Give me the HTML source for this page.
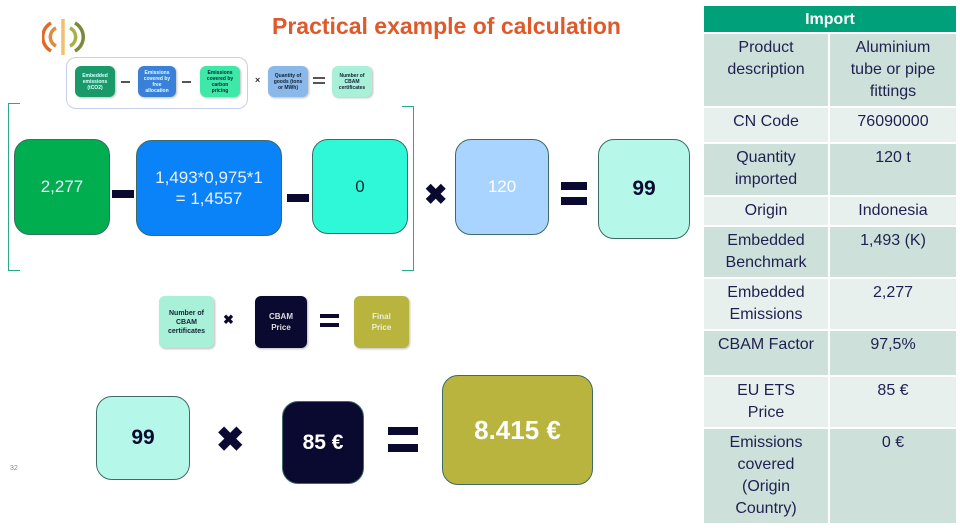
<!DOCTYPE html>
<html><head><meta charset="utf-8"><style>
*{margin:0;padding:0;box-sizing:border-box}
body{width:960px;height:528px;background:#fff;position:relative;overflow:hidden;font-family:"Liberation Sans",sans-serif}
.a{position:absolute}
.b{position:absolute;border-radius:16px;border:1.5px solid #3d6b66;display:flex;align-items:center;justify-content:center;text-align:center}
.s{position:absolute;border-radius:6px;display:flex;align-items:center;justify-content:center;text-align:center;font-size:5px;font-weight:bold;line-height:6px;box-shadow:1px 1px 2px #bbb;padding:0 3px}
.bar{position:absolute;background:#0a0a30}
table{position:absolute;left:702px;top:4px;width:256px;border-collapse:collapse;font-size:16px;color:#1f2050;line-height:22px}
td{border:2px solid #fff;text-align:center;vertical-align:top;padding-top:3px;white-space:nowrap}
.d td{background:#cde0d9}.l td{background:#e8f0ed}
</style></head><body>
<div class="a" style="left:42px;top:16px;width:44px;height:42px">
<svg width="44" height="42"><g fill="none" stroke-width="3.5"><path d="M9 7 A16 16 0 0 0 9 35" stroke="#e06a2a"/><path d="M14 12 A10 10 0 0 0 14 30" stroke="#e08a3a"/><path d="M33 7 A16 16 0 0 1 33 35" stroke="#7a8a3a"/><path d="M28 12 A10 10 0 0 1 28 30" stroke="#a8b04a"/><path d="M21 3 L21 39" stroke="#f0c070"/></g></svg></div>
<div class="a" style="left:272px;top:13px;font-size:23px;font-weight:bold;color:#e0592a">Practical example of calculation</div>

<div class="a" style="left:66px;top:57px;width:182px;height:52px;border:1px solid #c8d0e8;border-radius:10px"></div>
<div class="s" style="left:75px;top:66px;width:40px;height:31px;background:#1a9a6a;color:#dff">Embedded emissions (tCO2)</div>
<div class="a" style="left:121px;top:81px;width:9px;height:1.5px;background:#555"></div>
<div class="s" style="left:138px;top:66px;width:38px;height:31px;background:#3a80d8;color:#dff">Emissions covered by free allocation</div>
<div class="a" style="left:182px;top:81px;width:9px;height:1.5px;background:#555"></div>
<div class="s" style="left:200px;top:66px;width:40px;height:31px;background:#3de8a8;color:#123">Emissions covered by carbon pricing</div>
<div class="a" style="left:255px;top:75px;font-size:9px;font-weight:bold;color:#333">×</div>
<div class="s" style="left:268px;top:66px;width:40px;height:31px;background:#8ab8e8;color:#123">Quantity of goods (tons or MWh)</div>
<div class="a" style="left:313px;top:77px;width:12px;height:2px;background:#555"></div><div class="a" style="left:313px;top:82px;width:12px;height:2px;background:#555"></div>
<div class="s" style="left:332px;top:66px;width:40px;height:31px;background:#a8f0d8;color:#123">Number of CBAM certificates</div>

<div class="a" style="left:8px;top:103px;width:12px;height:168px;border:1.5px solid #2aa88a;border-right:none"></div>
<div class="a" style="left:402px;top:106px;width:12px;height:165px;border:1.5px solid #2aa88a;border-left:none"></div>

<div class="b" style="left:14px;top:139px;width:96px;height:96px;background:#00ad4f;color:#eef;font-size:17px">2,277</div>
<div class="bar" style="left:112px;top:190px;width:22px;height:8px"></div>
<div class="b" style="left:136px;top:140px;width:146px;height:96px;background:#0a82f8;color:#eef;font-size:17px;line-height:21px">1,493*0,975*1<br>= 1,4557</div>
<div class="bar" style="left:287px;top:194px;width:22px;height:8px"></div>
<div class="b" style="left:312px;top:139px;width:96px;height:95px;background:#2ff8d8;color:#123;font-size:17px">0</div>
<div class="a" style="left:424px;top:178px;font-size:28px;font-weight:bold;color:#0a0a30">✖</div>
<div class="b" style="left:455px;top:139px;width:94px;height:96px;background:#a8d4ff;color:#fff;font-size:17px">120</div>
<div class="bar" style="left:561px;top:182px;width:26px;height:8px"></div><div class="bar" style="left:561px;top:197px;width:26px;height:8px"></div>
<div class="b" style="left:598px;top:139px;width:92px;height:100px;background:#b5f8ea;color:#0a0a30;font-size:21px;font-weight:bold">99</div>

<div class="s" style="left:159px;top:296px;width:55px;height:52px;background:#a8f0d8;color:#123;font-size:7px;line-height:9px">Number of CBAM certificates</div>
<div class="a" style="left:223px;top:312px;font-size:13px;font-weight:bold;color:#0a0a30">✖</div>
<div class="s" style="left:255px;top:296px;width:52px;height:52px;background:#0a0a30;color:#ddd;font-size:8px;line-height:11px">CBAM<br>Price</div>
<div class="bar" style="left:320px;top:314px;width:19px;height:4px"></div><div class="bar" style="left:320px;top:323px;width:19px;height:4px"></div>
<div class="s" style="left:354px;top:296px;width:55px;height:52px;background:#b8b43e;color:#eed;font-size:8px;line-height:11px">Final<br>Price</div>

<div class="b" style="left:96px;top:396px;width:94px;height:84px;background:#b5f8ea;color:#0a0a30;font-size:21px;font-weight:bold">99</div>
<div class="a" style="left:216px;top:420px;font-size:34px;font-weight:bold;color:#0a0a30">✖</div>
<div class="b" style="left:282px;top:401px;width:82px;height:83px;background:#0a0a30;color:#fff;font-size:21px;font-weight:bold">85 €</div>
<div class="bar" style="left:388px;top:427px;width:30px;height:8px"></div><div class="bar" style="left:388px;top:444px;width:30px;height:8px"></div>
<div class="b" style="left:442px;top:375px;width:151px;height:110px;background:#b8b43e;color:#fff;font-size:26px;font-weight:bold">8.415 €</div>
<div class="a" style="left:10px;top:465px;font-size:7px;color:#888">32</div>

<table>
<tr><td colspan="2" style="background:#00a07a;color:#fff;font-weight:bold;height:28px;padding-top:3px;line-height:22px">Import</td></tr>
<tr class="d" style="height:74px"><td style="width:126px">Product<br>description</td><td>Aluminium<br>tube or pipe<br>fittings</td></tr>
<tr class="l" style="height:36px"><td>CN Code</td><td>76090000</td></tr>
<tr class="d" style="height:53px"><td>Quantity<br>imported</td><td>120 t</td></tr>
<tr class="l" style="height:30px"><td>Origin</td><td>Indonesia</td></tr>
<tr class="d" style="height:52px"><td>Embedded<br>Benchmark</td><td>1,493 (K)</td></tr>
<tr class="l" style="height:52px"><td>Embedded<br>Emissions</td><td>2,277</td></tr>
<tr class="d" style="height:46px"><td>CBAM Factor</td><td>97,5%</td></tr>
<tr class="l" style="height:52px"><td>EU ETS<br>Price</td><td>85 €</td></tr>
<tr class="d" style="height:96px"><td>Emissions<br>covered<br>(Origin<br>Country)</td><td>0 €</td></tr>
</table>
</body></html>
